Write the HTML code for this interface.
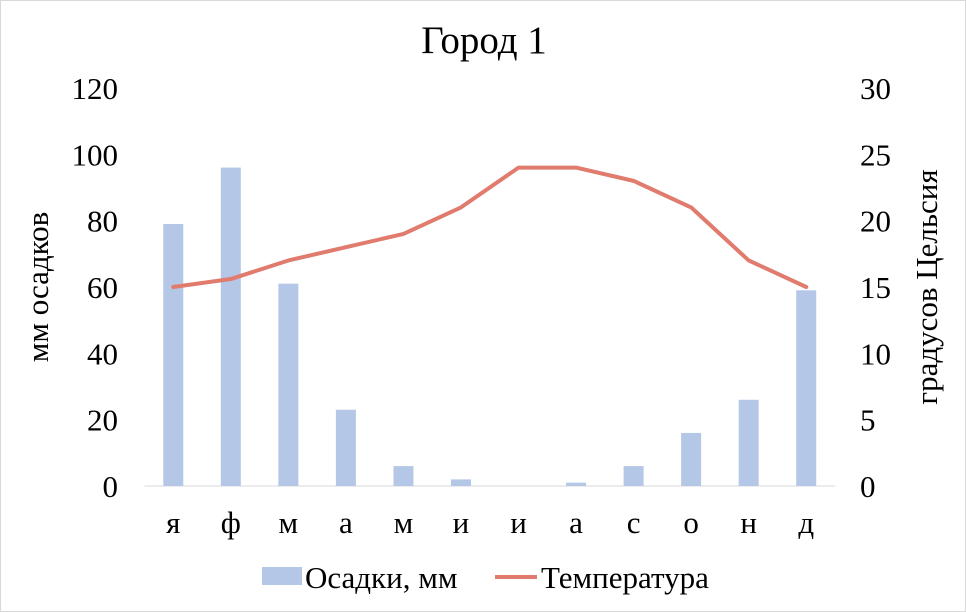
<!DOCTYPE html>
<html><head><meta charset="utf-8"><style>
html,body{margin:0;padding:0;background:#fff;}
svg{display:block;font-family:"Liberation Serif","DejaVu Serif",serif;}
</style></head><body>
<svg id="chart" width="966" height="612" xmlns="http://www.w3.org/2000/svg">
<rect x="0.5" y="0.5" width="965" height="611" fill="#fff" stroke="#d9d9d9"/>
<text x="484" y="53" font-size="39" text-anchor="middle" fill="#000">Город 1</text>
<text transform="translate(48,287) rotate(-90)" font-size="31" text-anchor="middle">мм осадков</text>
<text transform="translate(937,287) rotate(-90)" font-size="31" text-anchor="middle">градусов Цельсия</text>
<g id="gl"></g><g id="bars"></g><g id="line"></g><g id="ticks"></g>
<g>
<rect x="262" y="567" width="40" height="18" fill="#b4c7e7"/>
<text x="305" y="588" font-size="31">Осадки, мм</text>
<line x1="495" y1="577" x2="537" y2="577" stroke="#e07b6e" stroke-width="4"/>
<text x="541" y="588" font-size="31">Температура</text>
</g>
</svg>
<script>
const categories=["я","ф","м","а","м","и","и","а","с","о","н","д"];
const precip=[79,96,61,23,6,2,0,1,6,16,26,59];
const temp=[15,15.6,17,18,19,21,24,24,23,21,17,15];
const leftTicks=[0,20,40,60,80,100,120];
const rightTicks=[0,5,10,15,20,25,30];
const NS="http://www.w3.org/2000/svg";
const x0=144.5,x1=835,yb=486,yt=88;
const step=(x1-x0)/categories.length;
const xc=i=>x0+step*(i+0.5);
const yL=v=>yb-(v/120)*(yb-yt);
const yR=v=>yb-(v/30)*(yb-yt);
function mk(tag,attrs,parent){const e=document.createElementNS(NS,tag);for(const k in attrs)e.setAttribute(k,attrs[k]);document.getElementById(parent).appendChild(e);return e;}
precip.forEach((v,i)=>{
 const r=mk("rect",{x:xc(i)-10,y:yL(v),width:20,height:yb-yL(v),fill:"#b4c7e7"},"bars");
 
 
});
const base=mk("line",{x1:x0,y1:yb,x2:x1,y2:yb,stroke:"#d9d9d9","stroke-width":1},"gl");


const pl=mk("polyline",{points:temp.map((v,i)=>xc(i)+","+yR(v)).join(" "),fill:"none",stroke:"#e07b6e","stroke-width":4,"stroke-linejoin":"round","stroke-linecap":"round"},"line");


leftTicks.forEach(v=>{
 const t=mk("text",{x:118,y:yL(v)+11,"font-size":31,"text-anchor":"end"},"ticks");t.textContent=v;
 
 
});
rightTicks.forEach(v=>{
 const t=mk("text",{x:860,y:yR(v)+11,"font-size":31,"text-anchor":"start"},"ticks");t.textContent=v;
 
 
});
categories.forEach((c,i)=>{
 const t=mk("text",{x:xc(i),y:533,"font-size":31,"text-anchor":"middle"},"ticks");t.textContent=c;
 
 
});
</script>
</body></html>
